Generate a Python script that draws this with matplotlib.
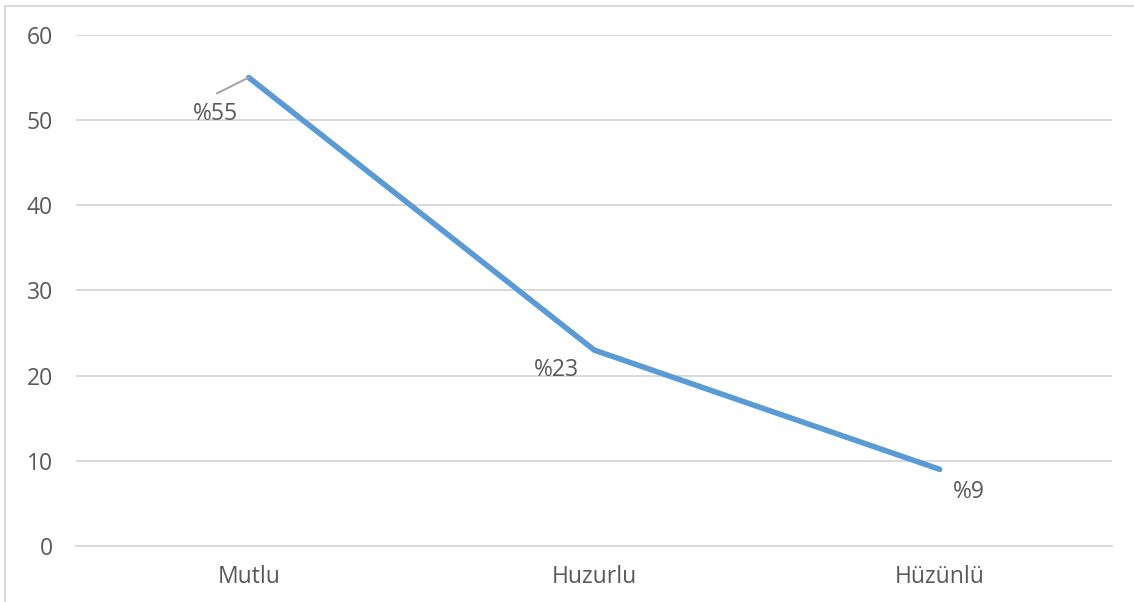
import matplotlib.pyplot as plt
from matplotlib.patches import Rectangle

categories = ["Mutlu", "Huzurlu", "Hüzünlü"]
values = [55, 23, 9]
labels = ["%55", "%23", "%9"]
yticks = [0, 10, 20, 30, 40, 50, 60]

plt.rcParams["font.family"] = ["Open Sans", "DejaVu Sans"]
text_color = "#595959"
grid_color = "#D9D9D9"
fs = 16.5

fig = plt.figure(figsize=(11.34, 6.02), dpi=100)
ax = fig.add_axes([0.067, 0.093, 0.914, 0.849])

x = list(range(len(categories)))
ax.plot(x, values, color="#5B9BD5", linewidth=4.0, solid_capstyle="round", zorder=3)

# data labels, offsets in points from each point
label_offsets = [(-24, -26), (-27, -14), (21, -16)]
for xi, v, lab, off in zip(x, values, labels, label_offsets):
    ax.annotate(lab, xy=(xi, v), xytext=off, textcoords="offset points",
                ha="center", va="center", fontsize=fs, color=text_color)

# leader line for the first label
ax.annotate("", xy=(x[0], values[0]), xytext=(-23, -11.5), textcoords="offset points",
            arrowprops=dict(arrowstyle="-", color="#A6A6A6", lw=1.5,
                            shrinkA=0, shrinkB=0))

ax.set_xlim(-0.5, len(categories) - 0.5)
ax.set_ylim(0, 60)
ax.set_yticks(yticks)
ax.set_xticks(x)
ax.set_xticklabels(categories)
ax.grid(axis="y", color=grid_color, linewidth=1.4)
ax.set_axisbelow(True)
for s in ["top", "right", "left"]:
    ax.spines[s].set_visible(False)
ax.spines["bottom"].set_color(grid_color)
ax.spines["bottom"].set_linewidth(1.4)
ax.tick_params(axis="both", length=0, labelsize=fs, labelcolor=text_color)
ax.tick_params(axis="y", pad=16.5)
ax.tick_params(axis="x", pad=14)

# chart frame (left/top edges visible in the crop)
fig.patches.append(Rectangle((5 / 1134, -0.01), 1.1, 1 - 6 / 602 + 0.01,
                             transform=fig.transFigure, fill=False,
                             edgecolor=grid_color, linewidth=1.5))

fig.savefig("out.png", dpi=100, facecolor="white")
